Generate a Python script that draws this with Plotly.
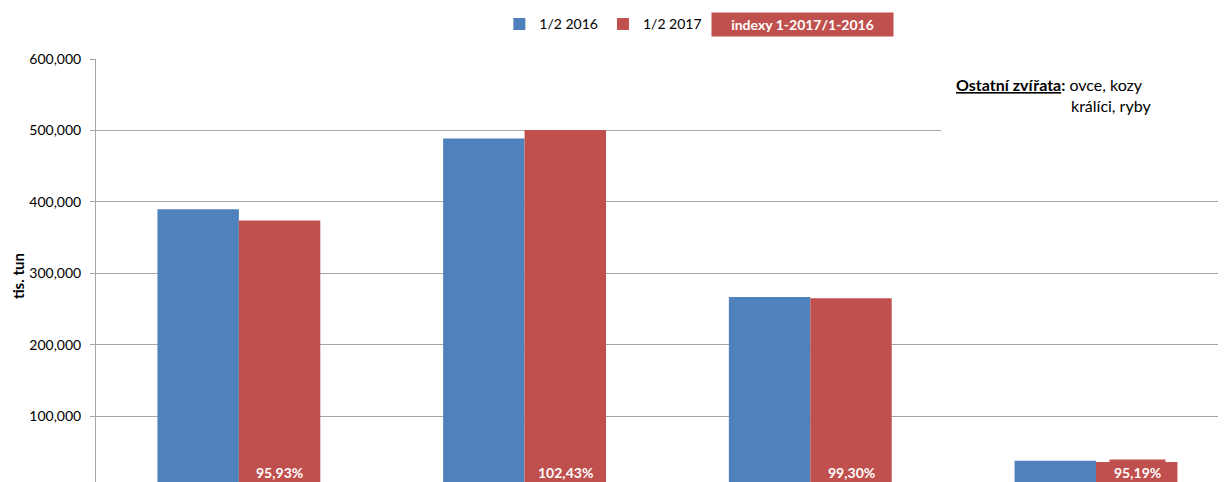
import plotly.graph_objects as go

categories = ["Skot", "Prasata", "Drůbež", "Ostatní zvířata"]
series_2016 = [389700, 488600, 267100, 37700]
series_2017 = [374000, 500600, 265200, 35900]
index_labels = ["95,93%", "102,43%", "99,30%", "95,19%"]
tick_values = [100000, 200000, 300000, 400000, 500000, 600000]

BLUE = "#4F81BD"
RED = "#C0504D"
GRID = "#A6A6A6"
FONT = "Lato"

fig = go.Figure()
fig.add_trace(go.Bar(name="1/2 2016", x=categories, y=series_2016,
                     marker=dict(color=BLUE, line=dict(width=0))))
fig.add_trace(go.Bar(name="1/2 2017", x=categories, y=series_2017,
                     marker=dict(color=RED, line=dict(width=0))))

# index labels at bottom of red bars
for cat, lab in zip(categories, index_labels):
    fig.add_annotation(x=cat, y=22000, xref="x", yref="y", text="<b>" + lab + "</b>",
                       showarrow=False, xshift=41, bgcolor=RED, borderpad=4,
                       font=dict(family=FONT, size=14, color="white"))

# white box behind note
fig.add_shape(type="rect", xref="paper", yref="paper", x0=0.748, x1=1.0, y0=0.809, y1=0.981,
              fillcolor="white", line=dict(width=0), layer="above")
fig.add_annotation(xref="paper", yref="paper", x=0.759, y=0.939, xanchor="left", yanchor="middle",
                   text="<b><u>Ostatní zvířata</u>:</b> ovce, kozy", showarrow=False,
                   font=dict(family=FONT, size=16, color="#000"))
fig.add_annotation(xref="paper", yref="paper", x=0.861, y=0.889, xanchor="left", yanchor="middle",
                   text="králíci, ryby", showarrow=False,
                   font=dict(family=FONT, size=16, color="#000"))

# indexy box
fig.add_annotation(xref="paper", yref="paper", x=0.625, y=1.081, xanchor="center", yanchor="middle",
                   text="<b>indexy 1-2017/1-2016</b>", showarrow=False, bgcolor=RED,
                   width=181, height=23, borderpad=0,
                   font=dict(family=FONT, size=14, color="white"))

# y axis title
fig.add_annotation(xref="paper", yref="paper", x=-0.069, y=0.487, xanchor="center", yanchor="middle",
                   text="<b>tis. tun</b>", textangle=-90, showarrow=False, borderpad=0,
                   font=dict(family=FONT, size=15, color="#000"))

fig.update_layout(
    width=1218, height=474,
    margin=dict(l=88, r=0, t=49, b=0),
    paper_bgcolor="white", plot_bgcolor="white",
    barmode="group", bargap=0.43, bargroupgap=0,
    font=dict(family=FONT, size=14, color="#000"),
    showlegend=True,
    legend=dict(orientation="h", x=0.541, xanchor="right", y=1.082, yanchor="middle",
                font=dict(family=FONT, size=14, color="#000"), itemwidth=30,
                bgcolor="rgba(0,0,0,0)"),
    xaxis=dict(range=[-0.5, 3.455], showticklabels=False, showline=False,
               showgrid=False, ticks="", zeroline=False),
    yaxis=dict(range=[8080, 600000], tickvals=tick_values, tickformat=",d",
               showgrid=True, gridcolor=GRID, gridwidth=1,
               showline=True, linecolor=GRID, linewidth=1,
               ticks="outside", ticklen=5, tickcolor=GRID, ticklabelstandoff=6,
               zeroline=False, tickfont=dict(family=FONT, size=14, color="#000")),
)

fig.write_html("out.html")
